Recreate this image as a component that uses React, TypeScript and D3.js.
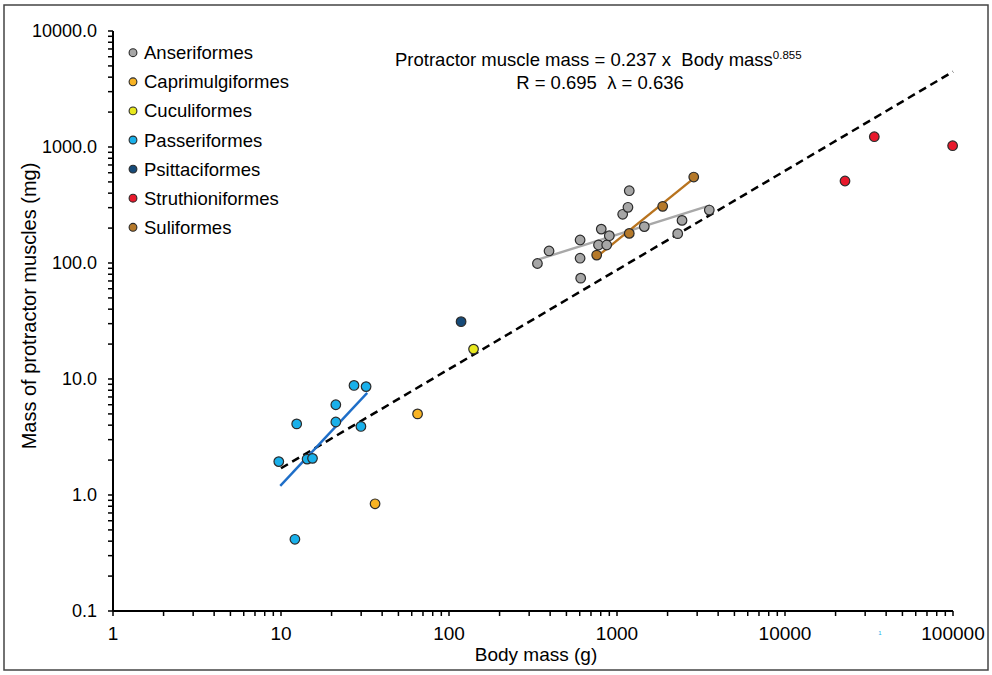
import React from "react";
import * as d3 from "d3";

// values: [body mass (g), protractor muscle mass (mg)]
const anseriformes = [
  [336, 99], [394, 127], [603, 158], [603, 110], [608, 74], [776, 143], [868, 143],
  [806, 196], [900, 172], [1081, 263], [1162, 302], [1183, 420], [1454, 206],
  [2438, 233], [2298, 179], [3543, 286],
];
const caprimulgiformes = [[65, 5.0], [36.3, 0.84]];
const cuculiformes = [[140, 18.1]];
const passeriformes = [
  [9.7, 1.94], [12.4, 4.1], [14.3, 2.04], [15.4, 2.07], [21.2, 6.0], [21.2, 4.26],
  [27.2, 8.8], [32.1, 8.6], [29.9, 3.9], [12.1, 0.415],
];
const psittaciformes = [[118, 31.2]];
const struthioniformes = [[34000, 1227], [99500, 1026], [22760, 509]];
const suliformes = [[757, 117], [1183, 180], [1871, 308], [2863, 551]];

// fitted lines (endpoints)
const anseriformesFit = [[345, 108], [3579, 314]];
const passeriformesFit = [[9.9, 1.2], [32.6, 7.6]];
const suliformesFit = [[757, 113], [2863, 537]];
const overallFit = [[10, 1.7], [100000, 4460]];

const xTicks = [1, 10, 100, 1000, 10000, 100000];
const yTicks = [0.1, 1, 10, 100, 1000, 10000];

const series = [
  { name: "Anseriformes", data: anseriformes, color: "#A6A6A6" },
  { name: "Caprimulgiformes", data: caprimulgiformes, color: "#F8B323" },
  { name: "Cuculiformes", data: cuculiformes, color: "#E8E81E" },
  { name: "Passeriformes", data: passeriformes, color: "#19B0EA" },
  { name: "Psittaciformes", data: psittaciformes, color: "#164A78" },
  { name: "Struthioniformes", data: struthioniformes, color: "#E8192C" },
  { name: "Suliformes", data: suliformes, color: "#B5792A" },
];

const fits = [
  { data: anseriformesFit, color: "#A8A8A8" },
  { data: passeriformesFit, color: "#1E6EC8" },
  { data: suliformesFit, color: "#B8731E" },
];

const FONT = "'Liberation Sans', Arial, sans-serif";

export default function App() {
  const width = 992;
  const height = 675;

  const x = d3.scaleLog().domain([1, 100000]).range([113, 953]);
  const y = d3.scaleLog().domain([0.1, 10000]).range([611, 31]);
  const line = d3.line<number[]>().x((d) => x(d[0])).y((d) => y(d[1]));

  // minor ticks 2..9 inside every decade
  const minorX: number[] = [];
  xTicks.slice(0, -1).forEach((t) => {
    for (let k = 2; k <= 9; k++) minorX.push(t * k);
  });
  const minorY: number[] = [];
  yTicks.slice(0, -1).forEach((t) => {
    for (let k = 2; k <= 9; k++) minorY.push(t * k);
  });
  const fmtY = d3.format(".1f");

  return (
    <svg
      width={width}
      height={height}
      style={{ position: "absolute", left: 0, top: 0, background: "#fff" }}
      fontFamily={FONT}
    >
      <rect x={4} y={5} width={984} height={665} fill="none" stroke="#444" strokeWidth={1.5} />

      {/* overall regression */}
      <path d={line(overallFit) || ""} fill="none" stroke="#000" strokeWidth={2.5} strokeDasharray="8,5" />

      {fits.map((f, i) => (
        <path key={i} d={line(f.data) || ""} fill="none" stroke={f.color} strokeWidth={2.4} />
      ))}

      {series.map((s) =>
        s.data.map((d, i) => (
          <circle
            key={s.name + i}
            cx={x(d[0])}
            cy={y(d[1])}
            r={4.8}
            fill={s.color}
            stroke="#2b2b2b"
            strokeWidth={1.2}
          />
        ))
      )}

      {/* axes */}
      <line x1={x(1)} x2={x(1)} y1={y(10000)} y2={y(0.1)} stroke="#000" strokeWidth={2} />
      <line x1={x(1)} x2={x(100000)} y1={y(0.1)} y2={y(0.1)} stroke="#000" strokeWidth={2} />
      {minorY.concat(yTicks).map((t, i) => (
        <line key={"yt" + i} x1={x(1) - 5} x2={x(1)} y1={y(t)} y2={y(t)} stroke="#000" strokeWidth={1.5} />
      ))}
      {minorX.concat(xTicks).map((t, i) => (
        <line key={"xt" + i} x1={x(t)} x2={x(t)} y1={y(0.1)} y2={y(0.1) + 5} stroke="#000" strokeWidth={1.5} />
      ))}
      {yTicks.map((t) => (
        <text key={"yl" + t} x={97} y={y(t) + 6} textAnchor="end" fontSize={18} fill="#000">
          {fmtY(t)}
        </text>
      ))}
      {xTicks.map((t) => (
        <text key={"xl" + t} x={x(t)} y={640} textAnchor="middle" fontSize={19} fill="#000">
          {String(t)}
        </text>
      ))}
      <text x={880} y={635} fontSize={6} fill="#19B0EA" textAnchor="middle">1</text>

      <text x={536} y={661} textAnchor="middle" fontSize={19} fill="#000">Body mass (g)</text>
      <text
        transform={`translate(36,${(y(10000) + y(0.1)) / 2 - 15}) rotate(-90)`}
        textAnchor="middle"
        fontSize={20}
        fill="#000"
      >
        Mass of protractor muscles (mg)
      </text>

      {/* legend */}
      {series.map((s, i) => (
        <g key={"lg" + s.name} transform={`translate(133,${52.7 + i * 29.1})`}>
          <circle r={3.9} fill={s.color} stroke="#2b2b2b" strokeWidth={1.1} />
          <text x={11} y={6.5} fontSize={18.5} fill="#000">{s.name}</text>
        </g>
      ))}

      {/* equation */}
      <text x={395} y={66} fontSize={18.5} fill="#000">
        {"Protractor muscle mass = 0.237 x\u00A0 Body mass"}
        <tspan dy={-7} fontSize={11.5}>0.855</tspan>
      </text>
      <text x={600} y={89} textAnchor="middle" fontSize={18.5} fill="#000">
        {"R = 0.695\u00A0 λ = 0.636"}
      </text>
    </svg>
  );
}
